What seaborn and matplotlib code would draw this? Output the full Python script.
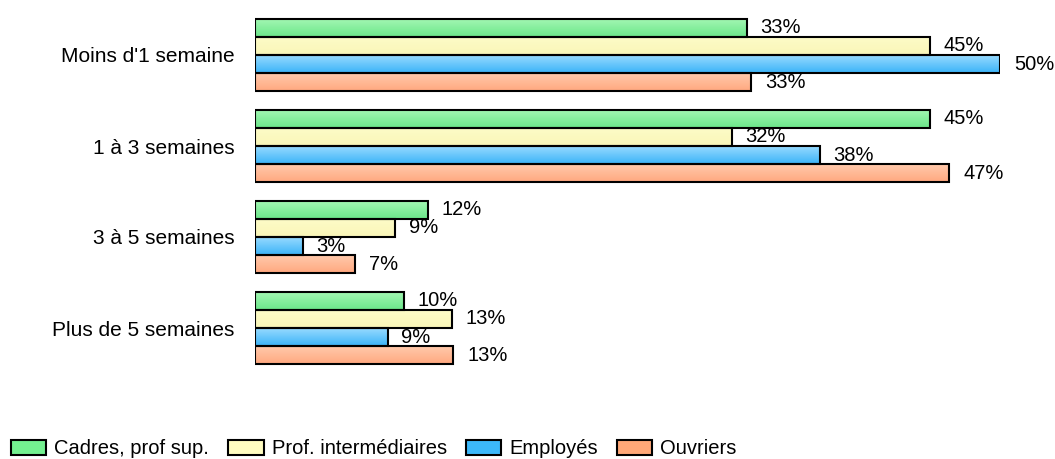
import numpy as np
import pandas as pd
import matplotlib
matplotlib.use("Agg")
import matplotlib.pyplot as plt
import matplotlib.colors as mcolors
import seaborn as sns

durees = ["Moins d'1 semaine", "1 à 3 semaines", "3 à 5 semaines", "Plus de 5 semaines"]
categories = ["Cadres, prof sup.", "Prof. intermédiaires", "Employés", "Ouvriers"]
cadres = [33.0, 45.3, 11.6, 10.0]
prof_inter = [45.3, 32.0, 9.4, 13.2]
employes = [50.0, 37.9, 3.2, 8.9]
ouvriers = [33.3, 46.6, 6.7, 13.3]
couleurs = ["#74F090", "#FFFCC0", "#3CB8FA", "#FFA878"]
# haut / bas du dégradé de chaque barre
degrade = [("#A4F8B4", "#6CE68A"), ("#FDFCC8", "#FAF6B8"),
           ("#9CDCFF", "#3CB4F8"), ("#FFCCAE", "#FFA880")]

rows = []
for cat, vals in zip(categories, [cadres, prof_inter, employes, ouvriers]):
    for d, v in zip(durees, vals):
        rows.append({"duree": d, "categorie": cat, "pct": v})
df = pd.DataFrame(rows)

sns.set_style("white")
plt.rcParams['font.family'] = ['Liberation Sans', 'DejaVu Sans']
plt.rcParams['text.color'] = 'black'
plt.rcParams['ytick.color'] = 'black'

fig = plt.figure(figsize=(10.55, 4.59), dpi=100)
ax = fig.add_axes([255 / 1055, 1 - 373.5 / 459, 745 / 1055, 364 / 459])

sns.barplot(data=df, y="duree", x="pct", hue="categorie", order=durees,
            hue_order=categories, palette=couleurs, orient="h", width=0.8,
            edgecolor="black", linewidth=1.5, saturation=1, ax=ax, legend=False)

# dégradé vertical dans chaque barre
for cont, (haut, bas) in zip(ax.containers, degrade):
    c1 = np.array(mcolors.to_rgb(haut))
    c2 = np.array(mcolors.to_rgb(bas))
    t = np.linspace(0, 1, 32)[:, None]
    grad = (c1 * (1 - t) + c2 * t)[:, None, :]
    for p in cont.patches:
        x0, y0 = p.get_x(), p.get_y()
        w, h = p.get_width(), p.get_height()
        im = ax.imshow(grad, extent=(x0, x0 + w, y0 + h, y0), aspect="auto",
                       zorder=2, interpolation="bilinear")
        im.set_clip_path(p)
        p.set_facecolor("none")
        p.set_zorder(3)

for cont in ax.containers:
    ax.bar_label(cont, labels=[f"{v:.0f}%" for v in cont.datavalues],
                 padding=10, fontsize=14.5, color="black")

ax.set_xlim(0, 50)
ax.set_ylim(3.5, -0.5)
ax.set_xlabel("")
ax.set_ylabel("")
ax.set_xticks([])
ax.tick_params(axis="y", length=0, pad=15, labelsize=15)
sns.despine(ax=ax, left=True, bottom=True)

handles = [plt.Rectangle((0, 0), 1, 1, facecolor=c, edgecolor="black", linewidth=1.5)
           for c in couleurs]
fig.legend(handles, categories, loc="lower left", bbox_to_anchor=(-0.001, -0.025),
           ncol=4, frameon=False, fontsize=14.5, handlelength=1.75, handleheight=0.75,
           handletextpad=0.4, columnspacing=0.95, borderaxespad=0.2)

fig.savefig("out.png", dpi=100)
